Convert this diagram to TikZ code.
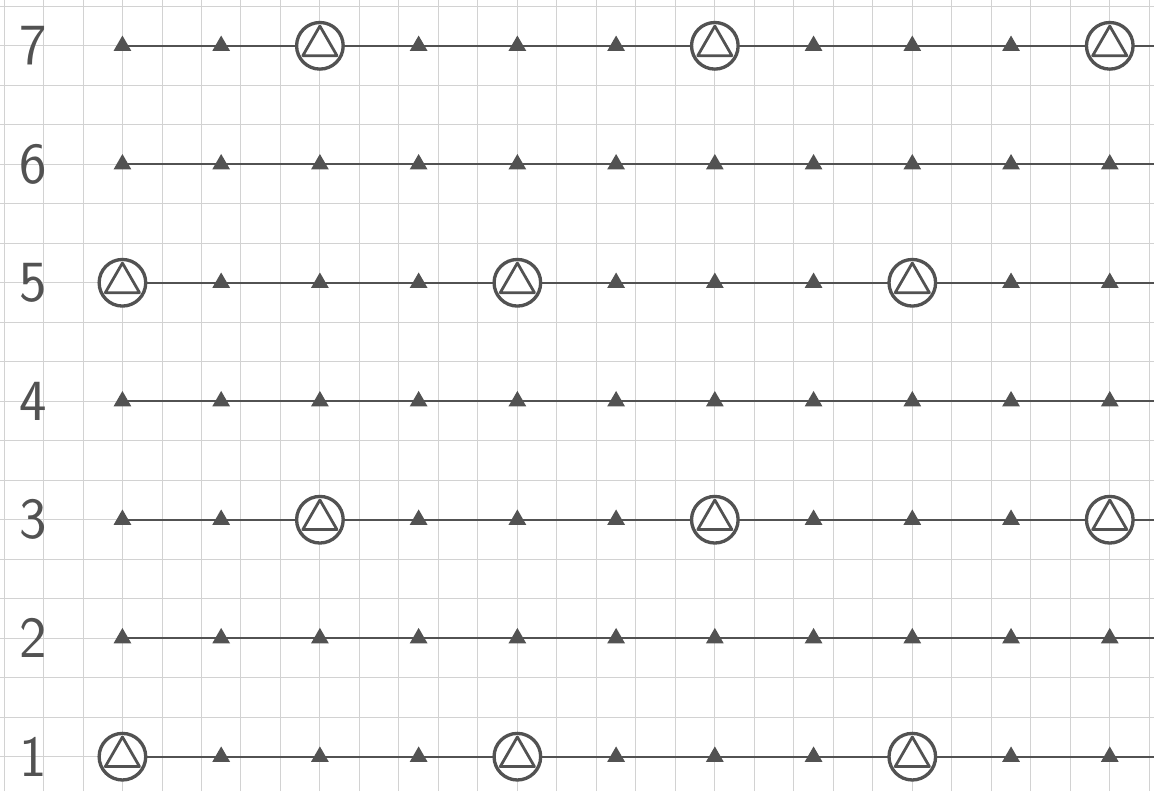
\documentclass[tikz,border=0pt]{standalone}
\usetikzlibrary{shapes.geometric}

\definecolor{ink}{HTML}{525252}
\definecolor{squared}{HTML}{D2D2D2}

\begin{document}
\begin{tikzpicture}[
		gridline/.style={squared, line width=0.6pt},
		rowline/.style={ink, line width=1.7pt},
		pip/.style={regular polygon, regular polygon sides=3, fill=ink,
			minimum size=0.52cm, inner sep=0pt},
		ring/.style={circle, draw=ink, line width=2.4pt, fill=white,
			minimum size=1.18cm, inner sep=0pt,
			path picture={\draw[ink, line width=2pt, line join=round]
				(path picture bounding box.center) ++(90:0.5)
				-- ++(-120:0.866) -- ++(0:0.866) -- cycle;}},
		num/.style={ink, font=\sffamily\fontsize{42}{44}\selectfont}
	]
	
	% page size
	\useasboundingbox (0,0) rectangle (29.22,20.03);
	
	% --- squared paper ---
	\begin{scope}[shift={(0.1,0.87)}]
		\draw[gridline] (-0.1,-0.87) grid (29.12,19.16);
	\end{scope}
	
	% --- rows of pips ---
	\foreach \r in {1,...,7} {
		
		\pgfmathsetmacro{\y}{0.87+3*(\r-1)}
		
		% row number
		\node[num] (n\r) at (0.85,\y) {\r};
		
		% row line, behind the pips
		\coordinate (s\r) at (3.1,\y);
		\coordinate (e\r) at (29.22,\y);
		\draw[rowline] (s\r) -- (e\r);
		
		% small filled triangles
		\foreach \c in {1,...,11} {
			\node[pip] (p\r-\c) at ({3.1+2.5*(\c-1)},\y) {};
		}
	}
	
	% --- circled triangles ---
	\foreach \r/\cs in {1/{1,5,9}, 3/{3,7,11}, 5/{1,5,9}, 7/{3,7,11}} {
		\foreach \c in \cs {
			\node[ring] (o\r-\c) at (p\r-\c) {};
		}
	}
	
\end{tikzpicture}
\end{document}
